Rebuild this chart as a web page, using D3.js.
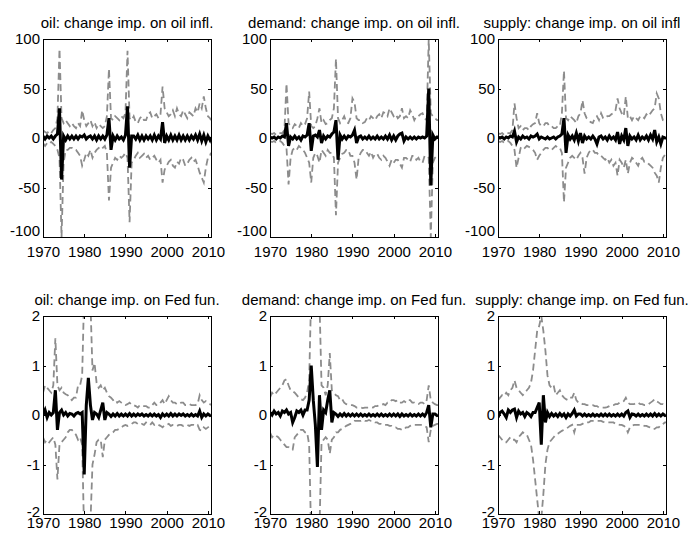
<!DOCTYPE html>
<html>
<head>
<meta charset="utf-8">
<script src="https://cdnjs.cloudflare.com/ajax/libs/d3/7.8.5/d3.min.js"></script>
<style>
  body { margin: 0; background: #fff; }
  svg { display: block; font-family: "Liberation Sans", Arial, sans-serif; }
</style>
</head>
<body>
<script>
// half-year grid, last point is 2010Q4
var years = [
  1970,1970.5,1971,1971.5,1972,1972.5,1973,1973.5,1974,1974.5,1975,1975.5,1976,1976.5,1977,1977.5,1978,1978.5,1979,1979.5,
  1980,1980.5,1981,1981.5,1982,1982.5,1983,1983.5,1984,1984.5,1985,1985.5,1986,1986.5,1987,1987.5,1988,1988.5,1989,1989.5,
  1990,1990.5,1991,1991.5,1992,1992.5,1993,1993.5,1994,1994.5,1995,1995.5,1996,1996.5,1997,1997.5,1998,1998.5,1999,1999.5,
  2000,2000.5,2001,2001.5,2002,2002.5,2003,2003.5,2004,2004.5,2005,2005.5,2006,2006.5,2007,2007.5,2008,2008.5,2009,2009.5,
  2010,2010.5,2010.75
];

var titles = [
  "oil: change imp. on oil infl.", "demand: change imp. on oil infl.", "supply: change imp. on oil infl",
  "oil: change imp. on Fed fun.", "demand: change imp. on Fed fun.", "supply: change imp. on Fed fun."
];

var xTicks = [1970, 1980, 1990, 2000, 2010];
var yTicksInfl = [-100, -50, 0, 50, 100];
var yTicksFed = [-2, -1, 0, 1, 2];

// oil shock -> oil inflation
var oilInflHi = [
  8,6, 5,7, 5,8, 10,20, 90,20, 15,18, 15,12, 15,12, 10,15, 12,28,
  18,12, 15,18, 12,16, 10,14, 12,10, 12,22, 70,20, 18,22, 20,18, 22,20,
  25,88, 20,18, 22,16, 15,20, 22,18, 18,24, 26,20, 22,24, 20,24, 52,30,
  26,22, 24,28, 22,30, 24,22, 28,24, 20,26, 24,22, 30,26, 35,30, 42,30,
  22,20,18
];
var oilInflMed = [
  2,-1, 2,0, 2,-1, 2,4, 30,-42, 2,-2, 2,-1, 2,-1, 2,-1, 2,1,
  3,-1, 1,2, -1,2, -2,2, -1,2, -1,3, 20,-12, 2,-2, 2,-1, 1,-2,
  3,32, -30,2, 2,-1, 3,-2, 2,-2, 2,-1, 2,-2, 3,-2, 2,-1, 16,-5,
  2,-2, 3,-2, 2,-2, 3,-2, 2,-2, 2,-2, 2,-1, 3,-2, 4,-3, 3,-4,
  2,-2,1
];
var oilInflLo = [
  -5,-8, -5,-6, -4,-6, -8,-12, -20,-100, -25,-12, -12,-10, -10,-12, -12,-15, -18,-28,
  -22,-15, -18,-12, -20,-15, -12,-10, -12,-10, -8,-15, -63,-30, -25,-20, -22,-18, -20,-18,
  -15,-20, -85,-25, -22,-18, -15,-20, -18,-16, -20,-18, -22,-20, -18,-22, -25,-22, -45,-32,
  -28,-24, -22,-28, -30,-24, -26,-20, -22,-28, -26,-22, -20,-24, -22,-28, -35,-40, -45,-30,
  -20,-18,-15
];

// demand shock -> oil inflation
var demInflHi = [
  5,4, 5,3, 4,5, 5,8, 55,15, 12,10, 14,12, 10,15, 12,14, 20,47,
  12,10, 12,20, 30,15, 18,14, 15,18, 20,30, 80,20, 15,18, 22,16, 15,20,
  40,36, 20,18, 18,15, 16,20, 18,22, 20,18, 22,24, 20,26, 25,22, 30,26,
  22,24, 20,22, 30,20, 22,20, 28,24, 18,22, 22,24, 25,20, 18,100, 25,22,
  20,18,18
];
var demInflMed = [
  1,0, 1,-1, 1,0, 2,1, 15,-8, 1,-1, 2,-1, 1,-2, 2,1, 3,15,
  -13,2, 3,1, 8,-5, 2,-1, 2,1, 4,6, 18,-22, 3,-1, 2,-1, 2,1,
  3,8, -5,1, 2,-1, 1,-1, 2,-1, 1,-1, 2,-1, 1,-1, 2,-1, 3,-2,
  2,-2, 2,4, 5,-3, 1,-1, 1,-1, 1,-1, 1,0, 1,0, 2,50, -48,3,
  -1,1,1
];
var demInflLo = [
  -3,-4, -3,-5, -4,-3, -5,-8, -10,-47, -20,-12, -10,-12, -8,-10, -12,-15, -20,-25,
  -45,-20, -15,-18, -25,-12, -15,-18, -12,-15, -15,-20, -78,-25, -20,-16, -15,-12, -12,-18,
  -18,-25, -42,-20, -15,-12, -12,-15, -18,-14, -20,-16, -16,-20, -22,-18, -20,-24, -28,-22,
  -25,-22, -22,-26, -30,-20, -20,-22, -24,-18, -18,-22, -20,-24, -25,-18, -18,-20, -100,-25,
  -20,-18,-18
];

// supply shock -> oil inflation
var supInflHi = [
  5,4, 5,3, 4,5, 5,8, 35,20, 10,12, 8,10, 10,8, 12,14, 15,25,
  15,12, 12,15, 15,12, 12,10, 10,12, 12,25, 68,20, 18,22, 20,18, 15,22,
  25,38, 25,20, 18,16, 15,20, 22,18, 25,20, 20,22, 22,24, 25,28, 40,30,
  25,22, 42,20, 22,18, 22,20, 18,22, 22,20, 24,22, 25,28, 30,45, 40,25,
  18,17,17
];
var supInflMed = [
  1,0, 1,-1, 1,0, 2,1, 7,-4, 1,-1, 2,0, 1,-1, 2,1, 2,4,
  -1,1, 0,-1, 1,-1, 0,1, -1,1, 2,4, 20,-15, 3,-1, 2,-2, 5,-3,
  5,-5, 2,-1, 1,-1, 2,-1, -6,1, 2,-1, 1,-2, 2,-1, 1,-2, 6,-6,
  2,-2, 10,-8, 2,-1, 1,-2, 3,-2, 1,-1, 2,-2, 3,-1, 8,-4, 1,-6,
  1,0,1
];
var supInflLo = [
  -3,-4, -3,-5, -4,-3, -5,-8, -12,-30, -20,-10, -8,-10, -8,-9, -10,-12, -15,-22,
  -18,-15, -12,-10, -10,-12, -12,-10, -8,-10, -10,-15, -65,-30, -25,-20, -18,-20, -22,-18,
  -15,-20, -36,-20, -15,-12, -12,-15, -15,-18, -18,-20, -22,-20, -25,-22, -28,-25, -38,-22,
  -25,-30, -22,-36, -25,-20, -22,-25, -28,-22, -20,-24, -24,-26, -28,-30, -35,-38, -45,-30,
  -20,-17,-17
];

// oil shock -> Fed funds
var oilFedHi = [
  0.45,0.6, 0.55,0.5, 0.45,0.6, 1.55,0.6, 0.5,0.55, 0.45,0.42, 0.4,0.35, 0.3,0.35, 0.35,0.6, 0.6,0.8,
  2.5,2.5, 2.5,2.3, 0.9,1.05, 0.65,0.55, 0.6,0.5, 0.55,0.45, 0.38,0.35, 0.3,0.32, 0.25,0.28, 0.25,0.22,
  0.2,0.22, 0.25,0.2, 0.2,0.18, 0.15,0.2, 0.2,0.18, 0.18,0.15, 0.15,0.2, 0.25,0.2, 0.2,0.25, 0.3,0.22,
  0.3,0.38, 0.3,0.25, 0.25,0.22, 0.22,0.25, 0.25,0.2, 0.2,0.22, 0.2,0.2, 0.2,0.22, 0.4,0.3, 0.25,0.28,
  0.25,0.22,0.2
];
var oilFedMed = [
  0,0.1, -0.05,0.05, 0,0.05, 0.5,-0.3, 0.05,0.1, 0,0.05, -0.02,0.03, 0.02,-0.02, 0.03,0.05, 0.02,0.05,
  -1.2,0.2, 0.75,0.2, -0.1,0.05, 0.02,-0.05, 0.1,0.25, -0.1,0.05, 0.02,-0.03, 0.02,-0.02, 0.03,-0.02, 0.02,-0.02,
  0.02,-0.02, 0.03,-0.02, 0.02,-0.02, 0.02,-0.01, 0.02,-0.02, 0.01,-0.02, 0.02,-0.02, 0.02,-0.02, 0.01,-0.05, 0.02,-0.02,
  0.02,-0.02, 0.03,-0.02, 0.02,-0.02, 0.02,-0.01, 0.02,-0.02, 0.01,-0.02, 0.02,-0.02, 0.01,-0.02, 0.08,-0.05, 0.02,-0.02,
  0.02,-0.01,0
];
var oilFedLo = [
  -0.45,-0.55, -0.5,-0.55, -0.5,-0.45, -0.6,-1.3, -0.6,-0.55, -0.5,-0.45, -0.35,-0.3, -0.3,-0.35, -0.4,-0.5, -0.45,-0.6,
  -2.5,-2.5, -2.5,-2.2, -1.0,-0.8, -0.55,-0.5, -0.5,-0.85, -0.5,-0.45, -0.4,-0.38, -0.35,-0.3, -0.3,-0.28, -0.25,-0.22,
  -0.2,-0.22, -0.2,-0.18, -0.15,-0.15, -0.18,-0.2, -0.18,-0.2, -0.15,-0.18, -0.2,-0.15, -0.2,-0.18, -0.2,-0.22, -0.25,-0.2,
  -0.2,-0.18, -0.22,-0.2, -0.2,-0.22, -0.2,-0.2, -0.22,-0.2, -0.2,-0.22, -0.2,-0.2, -0.22,-0.2, -0.3,-0.32, -0.25,-0.28,
  -0.25,-0.22,-0.2
];

// demand shock -> Fed funds
var demFedHi = [
  0.35,0.45, 0.4,0.45, 0.5,0.55, 0.6,0.7, 0.72,0.6, 0.5,0.48, 0.45,0.4, 0.35,0.32, 0.3,0.35, 0.45,0.7,
  2.5,2.5, 2.5,2.5, 2.3,0.6, 0.55,0.4, 0.6,1.25, 0.5,0.45, 0.4,0.38, 0.3,0.32, 0.25,0.22, 0.2,0.2,
  0.2,0.18, 0.15,0.15, 0.15,0.14, 0.15,0.15, 0.15,0.16, 0.15,0.18, 0.18,0.2, 0.2,0.22, 0.2,0.25, 0.25,0.3,
  0.3,0.28, 0.3,0.25, 0.25,0.28, 0.25,0.3, 0.3,0.25, 0.25,0.22, 0.22,0.25, 0.25,0.22, 0.3,0.6, 0.3,0.25,
  0.22,0.2,0.2
];
var demFedMed = [
  0.05,0, 0.08,0.02, 0.05,-0.02, 0.08,0.05, 0.1,0.02, 0.05,-0.15, -0.05,0.08, 0.05,0.1, 0,0.1, 0.1,0.3,
  1.0,0.3, -0.2,-1.05, 0.4,-0.3, 0.1,0.05, 0.3,0.5, -0.15,0.05, 0.02,-0.03, 0.02,-0.02, 0.03,-0.02, 0.02,-0.02,
  0.02,-0.02, 0.02,-0.02, 0.02,-0.02, 0.01,-0.02, 0.02,-0.02, 0.01,-0.02, 0.02,-0.02, 0.02,-0.02, 0.01,-0.02, 0.02,-0.02,
  0.02,-0.02, 0.02,-0.03, 0.02,-0.02, 0.01,-0.02, 0.02,-0.02, 0.01,-0.02, 0.02,-0.02, 0.02,-0.02, 0.05,0.2, -0.25,0.02,
  0.02,-0.01,0
];
var demFedLo = [
  -0.35,-0.45, -0.4,-0.42, -0.45,-0.5, -0.55,-0.6, -0.65,-0.65, -0.7,-0.7, -0.45,-0.4, -0.35,-0.3, -0.3,-0.35, -0.35,-0.6,
  -2.5,-2.5, -2.5,-2.5, -2.3,-0.55, -0.5,-0.45, -0.5,-0.78, -0.5,-0.45, -0.35,-0.35, -0.3,-0.28, -0.25,-0.22, -0.2,-0.18,
  -0.15,-0.12, -0.12,-0.12, -0.12,-0.1, -0.12,-0.12, -0.1,-0.12, -0.12,-0.15, -0.15,-0.18, -0.18,-0.2, -0.2,-0.2, -0.22,-0.22,
  -0.25,-0.25, -0.28,-0.28, -0.3,-0.3, -0.25,-0.25, -0.22,-0.2, -0.2,-0.2, -0.2,-0.2, -0.2,-0.22, -0.25,-0.55, -0.3,-0.22,
  -0.2,-0.18,-0.18
];

// supply shock -> Fed funds
var supFedHi = [
  0.3,0.35, 0.4,0.38, 0.45,0.4, 0.5,0.55, 0.7,0.55, 0.5,0.45, 0.4,0.45, 0.5,0.55, 0.65,0.9, 1.3,1.7,
  1.8,2.0, 1.7,1.3, 0.8,0.6, 0.55,0.6, 0.4,0.45, 0.5,0.4, 0.35,0.32, 0.3,0.35, 0.35,0.45, 0.3,0.25,
  0.25,0.22, 0.22,0.2, 0.2,0.2, 0.2,0.18, 0.18,0.15, 0.15,0.15, 0.15,0.16, 0.18,0.2, 0.2,0.22, 0.22,0.25,
  0.25,0.28, 0.35,0.25, 0.22,0.22, 0.22,0.25, 0.25,0.22, 0.22,0.2, 0.2,0.22, 0.25,0.28, 0.32,0.28, 0.25,0.22,
  0.22,0.2,0.2
];
var supFedMed = [
  -0.05,0.05, 0.08,0.02, -0.05,0.1, 0.05,0.1, 0.12,-0.05, 0.08,0.02, 0.05,-0.03, 0.05,0.02, -0.03,0.05, 0.05,0.15,
  0.25,-0.6, 0.4,-0.15, 0.05,-0.03, 0.03,-0.02, 0.02,-0.03, 0.03,-0.02, 0.02,-0.05, 0.02,-0.02, 0.03,0.1, -0.02,0.02,
  0.02,-0.02, 0.02,-0.02, 0.01,-0.02, 0.02,-0.02, 0.01,-0.02, 0.02,-0.02, 0.02,-0.02, 0.02,-0.02, 0.01,-0.02, 0.02,-0.02,
  0.02,-0.02, 0.05,0.08, -0.05,0.02, 0.01,-0.02, 0.02,-0.02, 0.01,-0.02, 0.02,-0.02, 0.02,-0.02, 0.03,-0.02, 0.02,-0.02,
  0.02,-0.01,0
];
var supFedLo = [
  -0.4,-0.45, -0.5,-0.55, -0.55,-0.5, -0.45,-0.5, -0.5,-0.55, -0.45,-0.4, -0.35,-0.38, -0.4,-0.5, -0.6,-0.9, -1.3,-1.7,
  -2.1,-2.1, -1.6,-1.0, -0.7,-0.55, -0.5,-0.45, -0.4,-0.38, -0.35,-0.32, -0.3,-0.28, -0.25,-0.22, -0.2,-0.35, -0.2,-0.2,
  -0.2,-0.18, -0.15,-0.15, -0.15,-0.12, -0.12,-0.12, -0.12,-0.12, -0.12,-0.14, -0.15,-0.15, -0.15,-0.15, -0.15,-0.18, -0.18,-0.2,
  -0.2,-0.22, -0.25,-0.35, -0.25,-0.22, -0.2,-0.2, -0.2,-0.2, -0.2,-0.22, -0.22,-0.24, -0.25,-0.28, -0.28,-0.25, -0.25,-0.2,
  -0.18,-0.15,-0.15
];

var panels = [
  { title: titles[0], hi: oilInflHi, med: oilInflMed, lo: oilInflLo, ticks: yTicksInfl },
  { title: titles[1], hi: demInflHi, med: demInflMed, lo: demInflLo, ticks: yTicksInfl },
  { title: titles[2], hi: supInflHi, med: supInflMed, lo: supInflLo, ticks: yTicksInfl },
  { title: titles[3], hi: oilFedHi, med: oilFedMed, lo: oilFedLo, ticks: yTicksFed },
  { title: titles[4], hi: demFedHi, med: demFedMed, lo: demFedLo, ticks: yTicksFed },
  { title: titles[5], hi: supFedHi, med: supFedMed, lo: supFedLo, ticks: yTicksFed }
];

// layout
var W = 688, H = 534;
var lefts = [43, 270, 498], tops = [39, 316];
var pw = 168, ph = 198;
var xPad = [9, 3];      // x label gap, top row vs bottom row
var lowShift = [-6, -2]; // lowest y label sits a bit higher

var svg = d3.select("body").append("svg")
  .attr("width", W)
  .attr("height", H);

var x = d3.scaleLinear().domain([1970, 2010.75]).range([0, pw]);
var plain = function(d) { return String(d); };

panels.forEach(function(p, k) {
  var col = k % 3, row = Math.floor(k / 3);
  var lo = d3.min(p.ticks);
  var y = d3.scaleLinear().domain(d3.extent(p.ticks)).range([ph, 0]);

  var g = svg.append("g")
    .attr("transform", "translate(" + lefts[col] + "," + tops[row] + ")");

  g.append("clipPath").attr("id", "clip" + k)
    .append("rect").attr("width", pw).attr("height", ph);

  var line = d3.line()
    .x(function(d, i) { return x(years[i]); })
    .y(function(d) { return y(d); });

  var plot = g.append("g").attr("clip-path", "url(#clip" + k + ")");

  [p.hi, p.lo].forEach(function(s) {
    plot.append("path")
      .datum(s)
      .attr("d", line)
      .attr("fill", "none")
      .attr("stroke", "#8c8c8c")
      .attr("stroke-width", 1.8)
      .attr("stroke-dasharray", "7,4");
  });

  plot.append("path")
    .datum(p.med)
    .attr("d", line)
    .attr("fill", "none")
    .attr("stroke", "#000")
    .attr("stroke-width", 3);

  // axes, ticks pointing inward
  g.append("g")
    .attr("transform", "translate(0," + ph + ")")
    .call(d3.axisBottom(x).tickValues(xTicks).tickFormat(plain).tickSize(-3).tickPadding(xPad[row]));
  var left = g.append("g")
    .call(d3.axisLeft(y).tickValues(p.ticks).tickFormat(plain).tickSize(-3).tickPadding(3));
  g.append("g")
    .call(d3.axisTop(x).tickValues(xTicks).tickFormat("").tickSize(-3));
  g.append("g")
    .attr("transform", "translate(" + pw + ",0)")
    .call(d3.axisRight(y).tickValues(p.ticks).tickFormat("").tickSize(-3));

  left.selectAll(".tick text")
    .filter(function(d) { return d === lo; })
    .attr("y", lowShift[row]);

  g.selectAll(".domain").remove();
  g.selectAll(".tick line").attr("stroke", "#000").attr("shape-rendering", "crispEdges");
  g.selectAll(".tick text")
    .attr("font-family", "'Liberation Sans', Arial, sans-serif")
    .attr("font-size", "15px")
    .attr("fill", "#000");

  g.append("rect")
    .attr("width", pw)
    .attr("height", ph)
    .attr("fill", "none")
    .attr("stroke", "#000")
    .attr("shape-rendering", "crispEdges");

  g.append("text")
    .attr("x", pw / 2)
    .attr("y", -11)
    .attr("text-anchor", "middle")
    .attr("font-size", "15px")
    .text(p.title);
});
</script>
</body>
</html>
